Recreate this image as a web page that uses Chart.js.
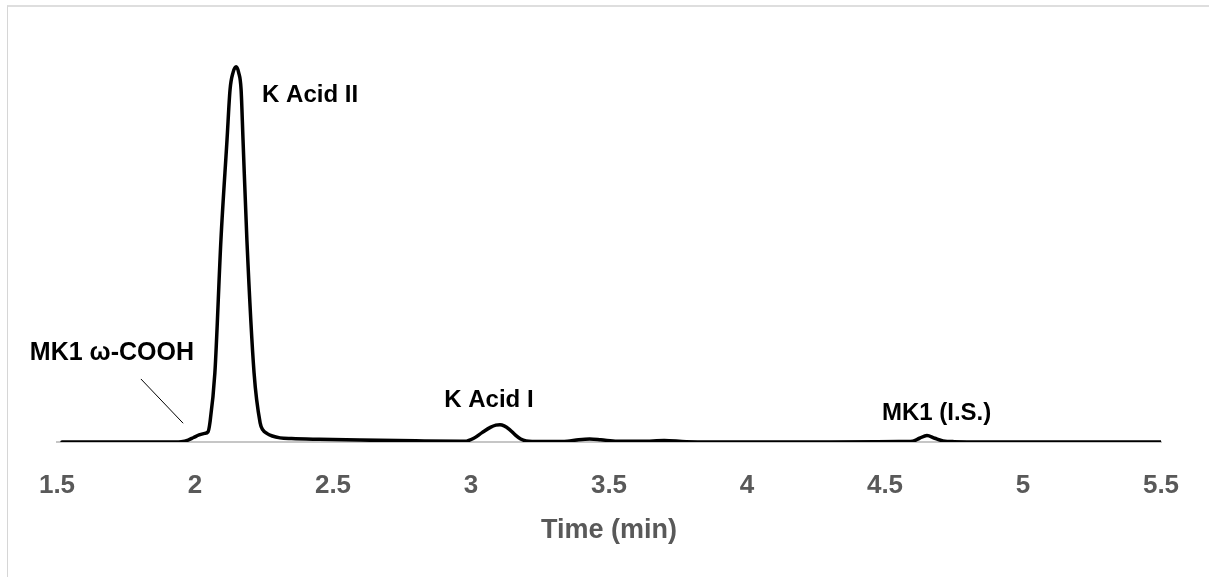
<!DOCTYPE html>
<html>
<head>
<meta charset="utf-8">
<script src="https://cdn.jsdelivr.net/npm/chart.js@4.4.1/dist/chart.umd.min.js"></script>
<style>
  html, body { margin: 0; padding: 0; background: #ffffff; }
  #wrap { position: relative; width: 1209px; height: 577px; overflow: hidden; }
  #frame { position: absolute; left: 7px; top: 5px; width: 1300px; height: 700px;
           border-left: 1px solid #d6d6d6; border-top: 2px solid #dedede; box-sizing: border-box; }
  #c { position: absolute; left: 0; top: 0; }
</style>
</head>
<body>
<div id="wrap">
  <div id="frame"></div>
  <canvas id="c" width="1209" height="577"></canvas>
</div>
<script>
// ---- data (time in min, detector signal in relative units) ----
const times = [
  1.518, 1.90, 1.95, 1.975, 1.995, 2.015, 2.035, 2.047, 2.054, 2.072,
  2.094, 2.116, 2.127, 2.138, 2.149, 2.158, 2.167, 2.174, 2.188, 2.214,
  2.236, 2.246, 2.26, 2.28, 2.308, 2.35, 2.45, 2.6, 2.8, 2.96,
  2.978, 3.01, 3.04, 3.07, 3.09, 3.105, 3.12, 3.14, 3.16, 3.18,
  3.20, 3.25, 3.33, 3.35, 3.39, 3.43, 3.47, 3.53, 3.62, 3.70,
  3.78, 4.0, 4.3, 4.55, 4.60, 4.625, 4.652, 4.68, 4.71, 4.75,
  5.0, 5.5
];
const signal = [
  0, 0, 0.1, 0.5, 1.2, 1.9, 2.3, 2.7, 5.1, 18.4,
  53.9, 80.5, 93.9, 98.5, 100, 98.5, 93.9, 80.5, 53.9, 18.4,
  5.1, 3.2, 2.3, 1.6, 1.1, 0.9, 0.7, 0.5, 0.3, 0.2,
  0.2, 1.0, 2.5, 3.9, 4.5, 4.6, 4.3, 3.3, 1.9, 0.8,
  0.3, 0.1, 0.1, 0.2, 0.6, 0.8, 0.6, 0.2, 0.2, 0.4,
  0.1, 0, 0, 0.1, 0.2, 1.0, 1.7, 1.0, 0.3, 0.1,
  0, 0
];
const xTicks = [1.5, 2, 2.5, 3, 3.5, 4, 4.5, 5, 5.5];
const xTitle = 'Time (min)';

// peak labels: text, time, signal level (label anchor in data units), alignment
const labelTexts = ['K Acid II', 'K Acid I', 'MK1 (I.S.)', 'MK1 ω-COOH'];
const labelTimes = [2.243, 3.065, 4.687, 1.699];
const labelLevels = [92.5, 11.2, 7.5, 23.7];
const labelAligns = ['left', 'center', 'center', 'center'];
// leader line for MK1 ω-COOH: [time, level] from / to
const leaderFrom = [1.804, 16.8];
const leaderTo = [1.957, 5.0];

const FONT = "'Liberation Sans', Arial, sans-serif";

const annotations = {
  id: 'annotations',
  afterDatasetsDraw(chart) {
    const { ctx, scales: { x, y } } = chart;
    ctx.save();
    ctx.strokeStyle = '#000000';
    ctx.lineWidth = 1;
    ctx.beginPath();
    ctx.moveTo(x.getPixelForValue(leaderFrom[0]), y.getPixelForValue(leaderFrom[1]));
    ctx.lineTo(x.getPixelForValue(leaderTo[0]), y.getPixelForValue(leaderTo[1]));
    ctx.stroke();
    ctx.fillStyle = '#000000';
    ctx.textBaseline = 'middle';
    labelTexts.forEach((t, i) => {
      ctx.font = 'bold ' + (i === 3 ? 25 : 24) + 'px ' + FONT;
      ctx.textAlign = labelAligns[i];
      ctx.fillText(t, x.getPixelForValue(labelTimes[i]), y.getPixelForValue(labelLevels[i]));
    });
    ctx.restore();
  }
};

new Chart(document.getElementById('c'), {
  type: 'line',
  data: {
    datasets: [{
      data: times.map((t, i) => ({ x: t, y: signal[i] })),
      borderColor: '#000000',
      borderWidth: 3.5,
      borderCapStyle: 'round',
      borderJoinStyle: 'round',
      pointRadius: 0,
      fill: false,
      cubicInterpolationMode: 'monotone'
    }]
  },
  options: {
    responsive: false,
    animation: false,
    events: [],
    layout: { padding: { left: 57, right: 48, top: 48, bottom: 20 } },
    plugins: { legend: { display: false }, tooltip: { enabled: false } },
    scales: {
      x: {
        type: 'linear',
        min: 1.5,
        max: 5.5,
        afterBuildTicks(scale) { scale.ticks = xTicks.map(v => ({ value: v })); },
        afterFit(scale) { scale.height = 115; },
        grid: { display: false, drawTicks: false },
        border: { display: true, color: '#c6c6c6', width: 2 },
        ticks: {
          padding: 28,
          color: '#595959',
          font: { family: FONT, size: 26, weight: 'bold' },
          maxRotation: 0,
          autoSkip: false,
          callback: v => String(v)
        },
        title: {
          display: true,
          text: xTitle,
          color: '#595959',
          font: { family: FONT, size: 27, weight: 'bold' },
          padding: { top: 13.6, bottom: 9.8 }
        }
      },
      y: {
        display: false,
        min: 0,
        max: 105
      }
    }
  },
  plugins: [annotations]
});
</script>
</body>
</html>
